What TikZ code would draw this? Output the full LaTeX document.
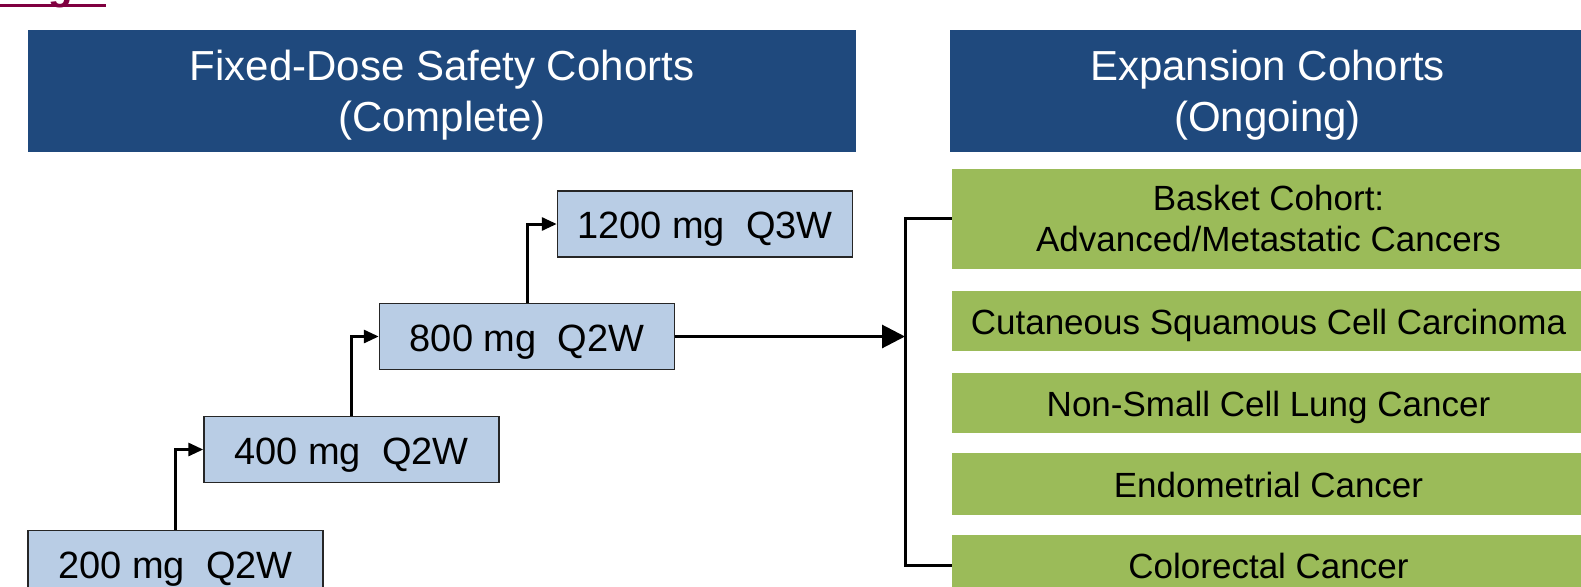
\documentclass[tikz,border=0pt]{standalone}
\usepackage{fontspec}
\setmainfont{Liberation Sans}
\usetikzlibrary{arrows.meta}

\definecolor{hdrblue}{RGB}{31,73,125}
\definecolor{doseblue}{RGB}{185,205,229}
\definecolor{cohortgreen}{RGB}{155,187,89}
\definecolor{titlered}{RGB}{128,0,64}

\tikzset{
  header/.style={fill=hdrblue, text=white, inner sep=0pt, align=center,
    minimum height=122pt, text depth=0pt, font=\fontsize{42}{51.5}\selectfont},
  dosebox/.style={draw=black!85, line width=1.5pt, fill=doseblue, inner sep=0pt,
    minimum width=295pt, minimum height=66pt, text height=37.5pt, text depth=8pt,
    font=\fontsize{38}{46}\selectfont},
  cohort/.style={fill=cohortgreen, inner sep=0pt, align=center,
    minimum width=633pt, font=\fontsize{35}{41}\selectfont},
  oneline/.style={text height=34.2pt, text depth=7pt},
  stepline/.style={line width=3pt, -{Triangle[length=15pt,width=13pt]}},
  mainline/.style={line width=3pt, -{Triangle[length=23pt,width=23pt]}},
  bracket/.style={line width=3pt}
}

\begin{document}
\begin{tikzpicture}[x=1pt, y=-1pt]
  \useasboundingbox (0,0) rectangle (1581,586);
  \clip (0,0) rectangle (1581,586);

  % tail of the slide title and its underline
  \draw[titlered, line width=3pt] (0,5.5) -- (106,5.5);
  \node[text=titlered, anchor=base, inner sep=0pt,
        font=\bfseries\fontsize{40}{48}\selectfont] (ttl) at (61,0) {g};

  % column headers
  \node[header, minimum width=828pt] (hdrL) at (442,91)
    {Fixed-Dose Safety Cohorts\\(Complete)};
  \node[header, minimum width=635pt] (hdrR) at (1267.5,91)
    {Expansion Cohorts\\(Ongoing)};

  % dose escalation steps
  \node[dosebox] (b200)  at (175.5,563.5) {200 mg\ \ Q2W};
  \node[dosebox] (b400)  at (351.5,449.5) {400 mg\ \ Q2W};
  \node[dosebox] (b800)  at (527,336.5)   {800 mg\ \ Q2W};
  \node[dosebox] (b1200) at (705,224)     {1200 mg\ \ Q3W};

  % expansion cohorts
  \node[cohort, minimum height=100pt] (g1) at (1268.5,218.5)
    {Basket Cohort:\\Advanced/Metastatic Cancers};
  \node[cohort, oneline, minimum height=60pt] (g2) at (1268.5,321)
    {Cutaneous Squamous Cell Carcinoma};
  \node[cohort, oneline, minimum height=60pt] (g3) at (1268.5,403)
    {Non-Small Cell Lung Cancer};
  \node[cohort, oneline, minimum height=62pt] (g4) at (1268.5,484)
    {Endometrial Cancer};
  \node[cohort, oneline, minimum height=60pt] (g5) at (1268.5,565)
    {Colorectal Cancer};

  % escalation connectors
  \draw[stepline] (b200.north) |- (b400.west);
  \draw[stepline] (b400.north) |- (b800.west);
  \draw[stepline] (b800.north) |- (b1200.west);

  % bracket joining the expansion cohorts
  \coordinate (spine) at (905,0);
  \draw[bracket] (g1.west) -- (g1.west -| spine) -- (g5.west -| spine) -- (g5.west);
  \draw[mainline] (b800.east) -- (b800.east -| spine);
\end{tikzpicture}
\end{document}
